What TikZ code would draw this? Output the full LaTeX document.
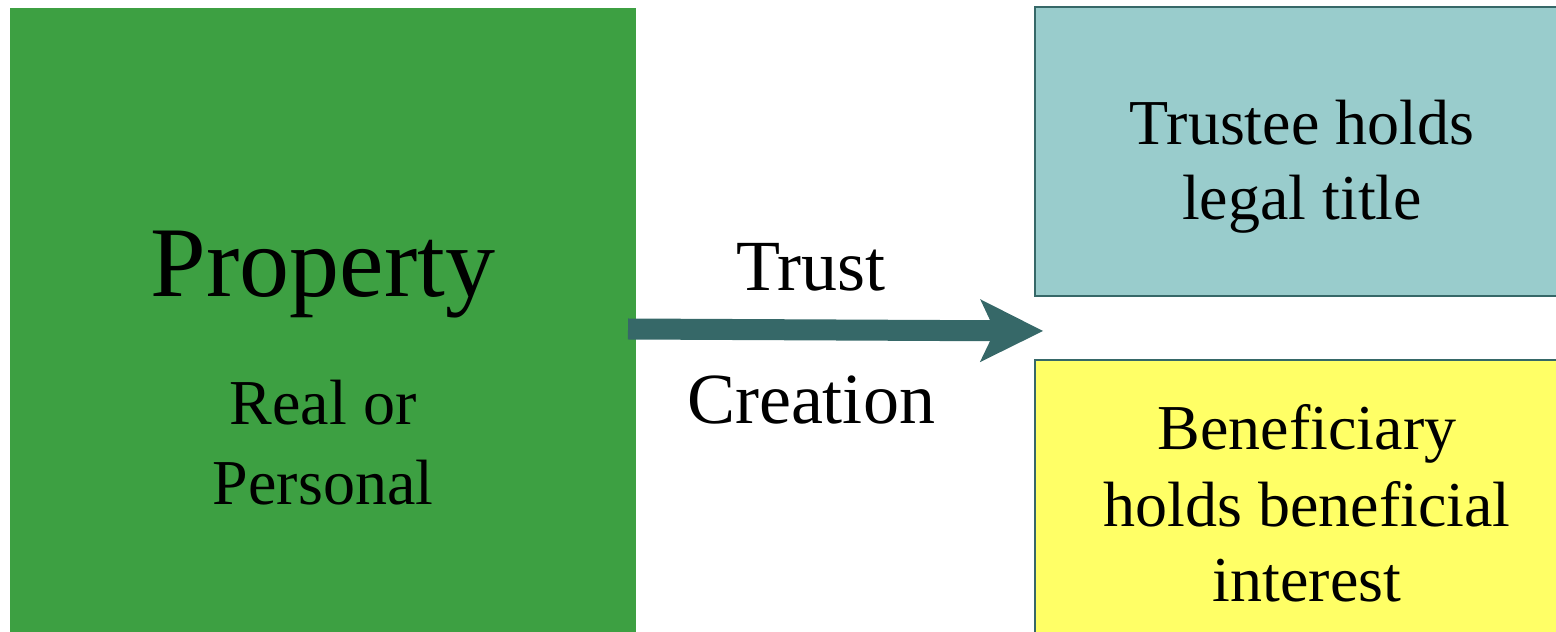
\documentclass[tikz,border=0pt]{standalone}
\usepackage{fontspec}
\setmainfont{Liberation Serif}
\usetikzlibrary{arrows.meta,positioning}

\definecolor{propgreen}{RGB}{61,160,66}
\definecolor{trustteal}{RGB}{153,204,204}
\definecolor{benyellow}{RGB}{255,255,102}
\definecolor{edgeteal}{RGB}{54,104,104}

\begin{document}
\begin{tikzpicture}[x=1pt,y=1pt,node distance=80pt,
  box/.style={draw=edgeteal,line width=1.5pt,inner sep=0pt,anchor=south west},
  line/.style={font=\fontsize{64}{76}\selectfont,inner sep=0pt,anchor=base},
  mid/.style={font=\fontsize{72}{86}\selectfont,inner sep=0pt,anchor=base}]
  \useasboundingbox (0,0) rectangle (1556,632);

  % boxes
  \node[fill=propgreen,inner sep=0pt,anchor=south west,minimum width=626pt,minimum height=624pt] (P) at (10,0) {};
  \node[box,fill=trustteal,minimum width=526pt,minimum height=289pt] (T) at (1034,335) {};
  \node[box,fill=benyellow,minimum width=526pt,minimum height=275pt] (B) at (1034,-4) {};

  % texts
  \node[font=\fontsize{100}{120}\selectfont,inner sep=0pt,anchor=base] (prop) at (323,335) {Property};
  \node[line,below=128pt of prop.base,anchor=base] (real) {Real or};
  \node[line,below=of real.base,anchor=base] (pers) {Personal};
  \node[mid] (trust) at (811,341) {Trust};
  \node[mid,below=133pt of trust.base,anchor=base] (creat) {Creation};
  \node[line] (tee1) at (1302,487) {Trustee holds};
  \node[line,below=75pt of tee1.base,anchor=base] (tee2) {legal title};
  \node[line] (ben1) at (1307,182) {Beneficiary};
  \node[line,below=77pt of ben1.base,anchor=base] (ben2) {holds beneficial};
  \node[line,below=75pt of ben2.base,anchor=base] (ben3) {interest};

  % arrow
  \coordinate (tail) at (628,303);
  \coordinate (tip) at (1043,301);
  \draw[edgeteal,line width=21pt,-{Stealth[length=63pt,width=63pt,inset=15pt,line width=0pt]}] (tail) -- (tip);
\end{tikzpicture}
\end{document}
